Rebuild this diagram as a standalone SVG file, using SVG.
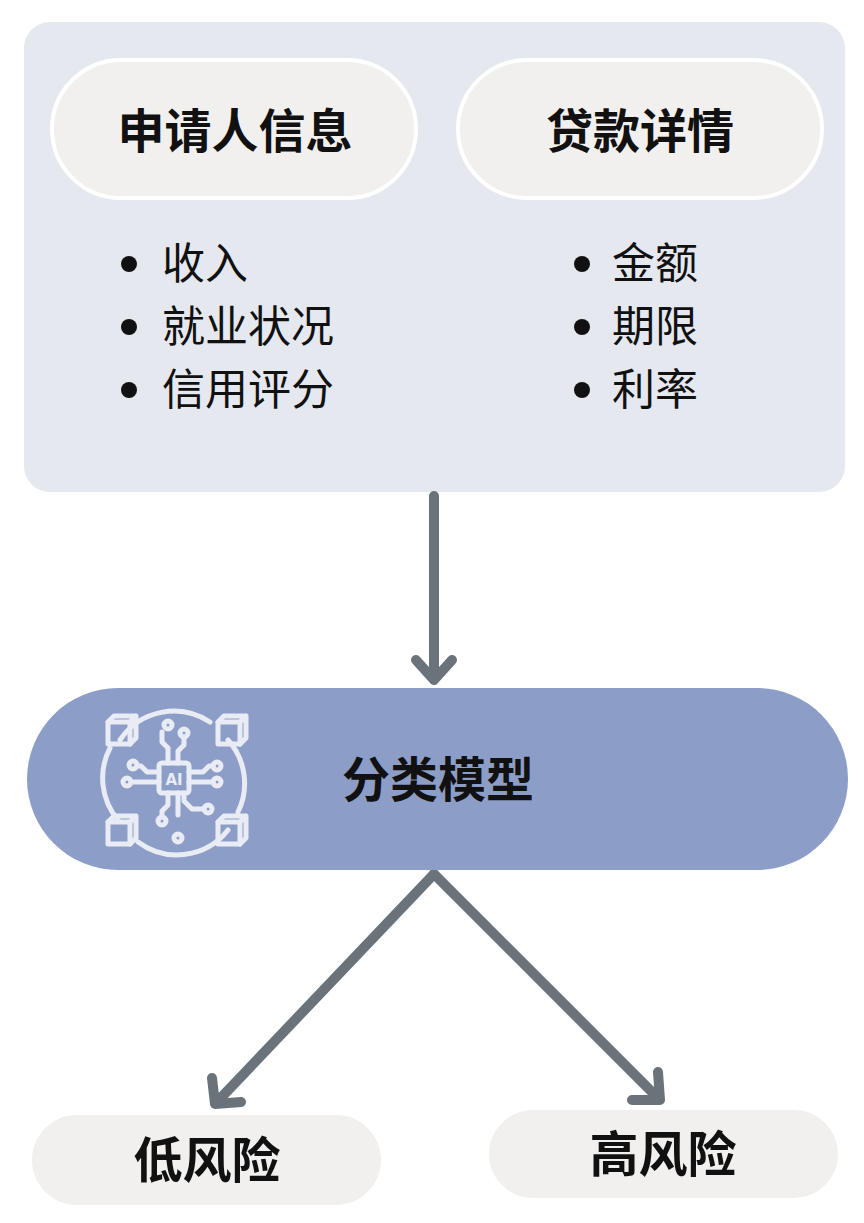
<svg xmlns="http://www.w3.org/2000/svg" width="864" height="1223" viewBox="0 0 864 1223">
<style>
.t{font-family:"Noto Sans CJK SC",sans-serif;font-weight:700;fill:#111;text-anchor:middle}
.b{font-family:"Noto Sans CJK SC",sans-serif;font-size:43px;fill:#111}
.pill{fill:#f2f0ee;stroke:#fff;stroke-width:4}
.c{stroke:#6b737a;stroke-width:10;fill:none;stroke-linecap:round;stroke-linejoin:round}
.ic{stroke:#e9ecf4;stroke-width:5;fill:none;stroke-linecap:round;stroke-linejoin:round}
</style>
<rect width="864" height="1223" fill="#fff"/>
<g id="inputs">
<rect x="24" y="22" width="821" height="470" rx="26" fill="#e5e8ee"/>
<g id="applicant">
<rect class="pill" x="52" y="60" width="364" height="138" rx="69"/>
<text class="t" x="235" y="148" font-size="47">申请人信息</text>
<circle cx="129" cy="264" r="8" fill="#111"/><text class="b" x="162" y="279">收入</text>
<circle cx="129" cy="327" r="8" fill="#111"/><text class="b" x="162" y="342">就业状况</text>
<circle cx="129" cy="390" r="8" fill="#111"/><text class="b" x="162" y="405">信用评分</text>
</g>
<g id="loan">
<rect class="pill" x="458" y="60" width="364" height="138" rx="69"/>
<text class="t" x="640" y="148" font-size="47">贷款详情</text>
<circle cx="582" cy="264" r="8" fill="#111"/><text class="b" x="612" y="279">金额</text>
<circle cx="582" cy="327" r="8" fill="#111"/><text class="b" x="612" y="342">期限</text>
<circle cx="582" cy="390" r="8" fill="#111"/><text class="b" x="612" y="405">利率</text>
</g>
</g>
<g id="connectors">
<path class="c" d="M434 496V680M416 660L434 680L452 660"/>
<path class="c" d="M434 874L215 1104M212 1078L215 1104L241 1102"/>
<path class="c" d="M434 874L660 1100M632 1100L660 1100L658 1072"/>
</g>
<g id="model">
<rect x="27" y="688" width="821" height="182" rx="91" fill="#8c9ec7"/>
<g class="ic">
<path d="M120 740A65 65 0 0 1 210 722M228 740A65 65 0 0 1 238 812M228 830A65 65 0 0 1 138 842M118 820A65 65 0 0 1 110 748"/>
<rect x="108" y="722" width="22" height="22"/><path d="M108 722l6-6h22v22l-6 6M130 722l6-6"/>
<rect x="218" y="722" width="22" height="22"/><path d="M218 722l6-6h22v22l-6 6M240 722l6-6"/>
<rect x="108" y="822" width="22" height="22"/><path d="M108 822l6-6h22v22l-6 6M130 822l6-6"/>
<rect x="218" y="822" width="22" height="22"/><path d="M218 822l6-6h22v22l-6 6M240 822l6-6"/>
<rect x="159" y="763" width="30" height="30" rx="3"/>
<path d="M168 763v-15l-6-6v-10M178 763v-12l6-6v-8M159 772h-12l-6-6h-4M159 782h-28M189 772h14l6-6h4M189 782h24M168 793v12l-6 6v6M178 793v22M184 793v8l8 8h12"/>
<circle cx="168" cy="725" r="4"/><circle cx="184" cy="733" r="4"/><circle cx="133" cy="765" r="4"/><circle cx="127" cy="782" r="4"/><circle cx="217" cy="766" r="4"/><circle cx="217" cy="782" r="4"/><circle cx="162" cy="821" r="4"/><circle cx="178" cy="838" r="4"/><circle cx="208" cy="809" r="4"/>
</g>
<text x="174" y="785" font-family="DejaVu Sans,sans-serif" font-size="15" font-weight="700" fill="#e9ecf4" text-anchor="middle">AI</text>
<text class="t" x="438" y="797" font-size="48">分类模型</text>
</g>
<g id="low">
<rect class="pill" x="30" y="1113" width="353" height="94" rx="47"/>
<text class="t" x="207" y="1178" font-size="49">低风险</text>
</g>
<g id="high">
<rect class="pill" x="487" y="1108" width="353" height="92" rx="46"/>
<text class="t" x="663" y="1172" font-size="49">高风险</text>
</g>
</svg>
